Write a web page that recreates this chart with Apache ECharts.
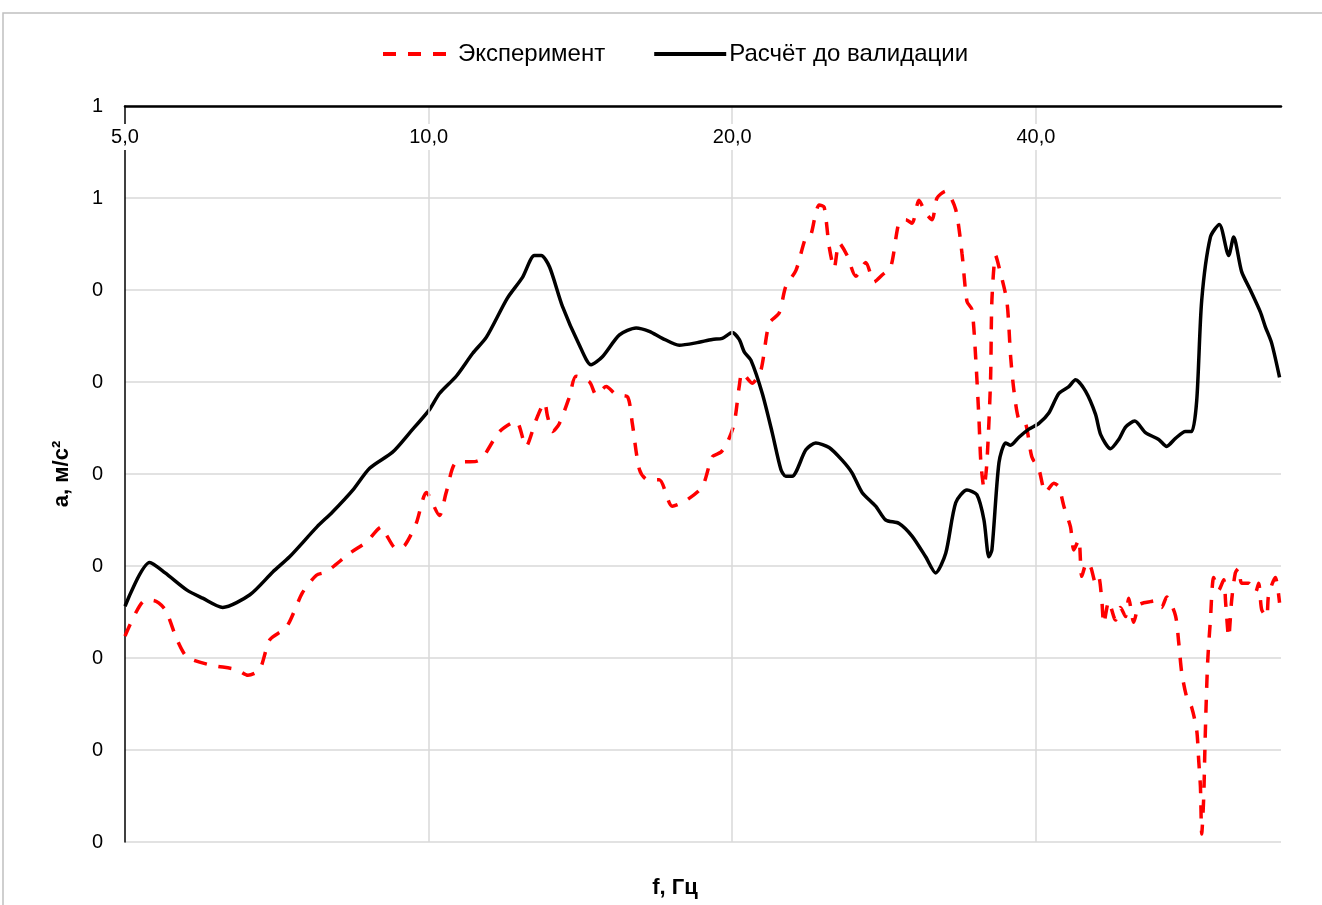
<!DOCTYPE html>
<html>
<head>
<meta charset="utf-8">
<title>a(f)</title>
<script src="https://cdn.jsdelivr.net/npm/echarts@6/dist/echarts.min.js"></script>
<style>
  html, body { margin: 0; padding: 0; background: #fff; }
  #chart { width: 1322px; height: 905px; }
</style>
</head>
<body>
<div id="chart"></div>
<script>
// Frequency range of the plot, Hz (octave axis: 5, 10, 20, 40 ...)
const F_MIN = 5;
const F_MAX = 70;

// Y ticks (acceleration, m/s²) — labels are printed rounded to integers
const Y_MIN = 0;
const Y_MAX = 0.64;
const Y_STEP = 0.08;

const seriesNames = ['Эксперимент', 'Расчёт до валидации'];

// Experiment: frequency, Hz
const expFreq = [5.00,5.21,5.33,5.48,5.63,5.76,6.07,6.45,6.62,6.80,
  6.96,7.23,7.50,7.74,7.92,8.35,8.68,8.98,9.08,9.29,
  9.47,9.72,9.95,10.25,10.41,10.65,11.15,11.31,11.76,12.21,
  12.49,12.78,13.03,13.12,13.27,13.48,13.79,14.00,14.44,14.66,
  15.00,15.34,15.75,15.92,16.18,16.48,16.93,17.44,18.00,18.68,
  19.11,19.49,19.77,20.09,20.32,20.46,20.93,21.35,21.76,22.26,
  22.60,23.13,23.66,23.93,24.20,24.39,24.67,24.95,25.24,25.53,
  26.00,26.52,27.13,27.65,28.16,28.72,29.27,29.72,30.15,30.63,
  31.10,31.56,31.92,32.56,33.31,33.79,34.18,34.57,34.86,35.13,
  35.28,35.53,35.77,36.07,36.18,36.49,36.77,37.44,37.76,38.04,
  38.48,39.07,39.63,40.28,40.89,41.68,42.15,42.64,43.29,43.62,
  44.12,44.42,44.93,45.34,45.86,46.18,46.50,46.71,47.24,47.98,
  48.52,49.08,49.44,50.01,50.58,51.17,51.95,52.71,53.31,53.92,
  55.01,55.43,55.81,56.44,57.09,57.75,58.01,58.24,58.41,58.68,
  58.81,58.99,59.22,59.58,60.03,60.72,61.42,61.69,62.12,62.54,
  63.07,63.55,63.98,65.02,66.02,66.52,66.98,67.74,68.05,69.10,
  69.77];
// Experiment: acceleration, m/s²
const expAcc = [0.179,0.209,0.210,0.202,0.176,0.161,0.154,0.150,0.145,0.150,
  0.176,0.187,0.217,0.232,0.235,0.251,0.261,0.274,0.267,0.255,
  0.258,0.277,0.304,0.284,0.304,0.330,0.331,0.334,0.357,0.366,
  0.344,0.367,0.382,0.370,0.357,0.364,0.387,0.405,0.400,0.389,
  0.396,0.389,0.387,0.364,0.324,0.315,0.315,0.292,0.297,0.309,
  0.335,0.339,0.347,0.364,0.396,0.408,0.399,0.410,0.451,0.460,
  0.483,0.497,0.526,0.528,0.547,0.554,0.552,0.518,0.499,0.521,
  0.510,0.492,0.504,0.487,0.493,0.500,0.539,0.541,0.538,0.558,
  0.547,0.541,0.560,0.566,0.550,0.512,0.470,0.463,0.422,0.367,
  0.330,0.308,0.330,0.402,0.471,0.510,0.500,0.470,0.422,0.393,
  0.367,0.364,0.335,0.324,0.304,0.312,0.309,0.292,0.274,0.254,
  0.263,0.231,0.243,0.239,0.225,0.230,0.210,0.190,0.209,0.193,
  0.204,0.196,0.212,0.191,0.206,0.208,0.209,0.210,0.204,0.213,
  0.197,0.173,0.147,0.126,0.117,0.097,0.071,0.048,0.007,0.039,
  0.074,0.117,0.158,0.193,0.230,0.219,0.228,0.208,0.178,0.210,
  0.234,0.238,0.225,0.225,0.217,0.225,0.202,0.196,0.215,0.230,
  0.208];

// Calculation before validation: frequency, Hz
const calcFreq = [5.00,5.29,5.48,5.76,5.97,6.25,6.65,7.01,7.28,7.75,
  8.03,8.41,8.74,9.21,9.58,10.02,10.25,10.65,11.06,11.41,
  11.97,12.39,12.73,12.93,13.18,13.57,14.11,14.49,14.87,15.46,
  16.06,16.55,17.05,17.72,18.41,19.11,19.55,20.00,20.32,20.56,
  20.87,21.42,21.91,22.35,22.60,22.93,23.66,24.20,24.95,25.70,
  26.29,26.90,27.75,28.39,29.27,30.15,31.10,31.82,32.56,33.31,
  34.18,34.96,35.53,35.93,36.18,36.77,37.33,37.76,38.48,39.37,
  40.28,41.20,42.15,43.13,43.79,44.80,45.83,46.39,47.43,48.33,
  49.11,50.13,51.37,52.95,53.92,55.01,56.28,57.09,57.75,58.41,
  59.58,60.81,62.12,62.83,63.98,65.27,66.77,67.54,68.51,69.77];
// Calculation before validation: acceleration, m/s²
const calcAcc = [0.205,0.243,0.234,0.219,0.212,0.204,0.215,0.235,0.248,0.274,
  0.287,0.306,0.325,0.339,0.356,0.376,0.390,0.405,0.425,0.439,
  0.473,0.491,0.510,0.510,0.500,0.466,0.432,0.415,0.422,0.441,
  0.447,0.444,0.438,0.432,0.434,0.437,0.438,0.443,0.437,0.426,
  0.419,0.390,0.356,0.324,0.318,0.318,0.341,0.347,0.343,0.332,
  0.321,0.304,0.292,0.280,0.277,0.266,0.248,0.234,0.251,0.295,
  0.306,0.302,0.280,0.248,0.254,0.330,0.347,0.345,0.352,0.359,
  0.364,0.373,0.390,0.396,0.402,0.392,0.372,0.354,0.342,0.350,
  0.361,0.366,0.356,0.350,0.344,0.351,0.357,0.357,0.384,0.471,
  0.526,0.537,0.510,0.526,0.496,0.480,0.461,0.448,0.434,0.404];

// The x axis is logarithmic with base 2: position = octaves above F_MIN
const octave = f => Math.log2(f / F_MIN);
const toPoints = (fs, as) => fs.map((f, i) => [octave(f), as[i]]);
const fmtHz = v => (F_MIN * Math.pow(2, v)).toFixed(1).replace('.', ',');

const FONT = "'Liberation Sans', Arial, sans-serif";
const GRID = '#d9d9d9';
const DASH = [13, 12];

const chart = echarts.init(document.getElementById('chart'), null, { renderer: 'canvas' });

chart.setOption({
  animation: false,
  backgroundColor: '#fff',
  textStyle: { fontFamily: FONT },
  legend: {
    left: 381,
    top: 42,
    padding: 0,
    itemWidth: 72,
    itemHeight: 14,
    itemGap: 47,
    // legend keys are plain line samples, no marker
    itemStyle: { color: 'transparent', borderWidth: 0, opacity: 0 },
    lineStyle: { width: 4 },
    textStyle: { fontFamily: FONT, fontSize: 24, color: '#000', padding: [0, 0, 0, -2] },
    data: seriesNames
  },
  grid: { left: 125, right: 41, top: 106, bottom: 63, containLabel: false },
  xAxis: {
    type: 'value',
    position: 'top',
    min: 0,
    max: octave(F_MAX),
    interval: 1,
    z: 5,
    axisLine: { show: true, onZero: false, lineStyle: { color: '#000', width: 2.5 } },
    axisTick: { show: false },
    axisLabel: {
      inside: true,
      margin: 18,
      fontFamily: FONT,
      fontSize: 20,
      color: '#000',
      backgroundColor: '#fff',
      padding: [3, 2],
      showMinLabel: true,
      showMaxLabel: false,
      formatter: fmtHz
    },
    splitLine: { show: true, showMinLine: false, showMaxLine: false, lineStyle: { color: GRID, width: 1.5 } }
  },
  yAxis: {
    type: 'value',
    min: Y_MIN,
    max: Y_MAX,
    interval: Y_STEP,
    axisLine: { show: true, onZero: false, lineStyle: { color: '#000', width: 1.5 } },
    axisTick: { show: false },
    axisLabel: {
      margin: 22,
      fontFamily: FONT,
      fontSize: 20,
      color: '#000',
      formatter: v => String(Math.round(v))
    },
    splitLine: { show: true, lineStyle: { color: GRID, width: 1.5 } }
  },
  graphic: [
    {
      type: 'rect', silent: true, z: -1,
      shape: { x: 3, y: 13, width: 1400, height: 1000 },
      style: { fill: null, stroke: '#c0c0c0', lineWidth: 1.5 }
    },
    {
      type: 'text', silent: true, x: 675, y: 888,
      style: { text: 'f, Гц', font: "bold 22px " + FONT, fill: '#000', align: 'center', verticalAlign: 'middle' }
    },
    {
      type: 'text', silent: true, x: 62, y: 474, rotation: Math.PI / 2,
      style: { text: 'a, м/с²', font: "bold 22px " + FONT, fill: '#000', align: 'center', verticalAlign: 'middle' }
    }
  ],
  series: [
    {
      name: seriesNames[0],
      type: 'line',
      data: toPoints(expFreq, expAcc),
      showSymbol: false,
      symbol: 'none',
      smooth: 0.25,
      lineStyle: { color: '#ff0000', width: 3.5, type: DASH },
      itemStyle: { color: '#ff0000' }
    },
    {
      name: seriesNames[1],
      type: 'line',
      data: toPoints(calcFreq, calcAcc),
      showSymbol: false,
      symbol: 'none',
      smooth: 0.25,
      lineStyle: { color: '#000', width: 3.5 },
      itemStyle: { color: '#000' }
    }
  ]
});
</script>
</body>
</html>
